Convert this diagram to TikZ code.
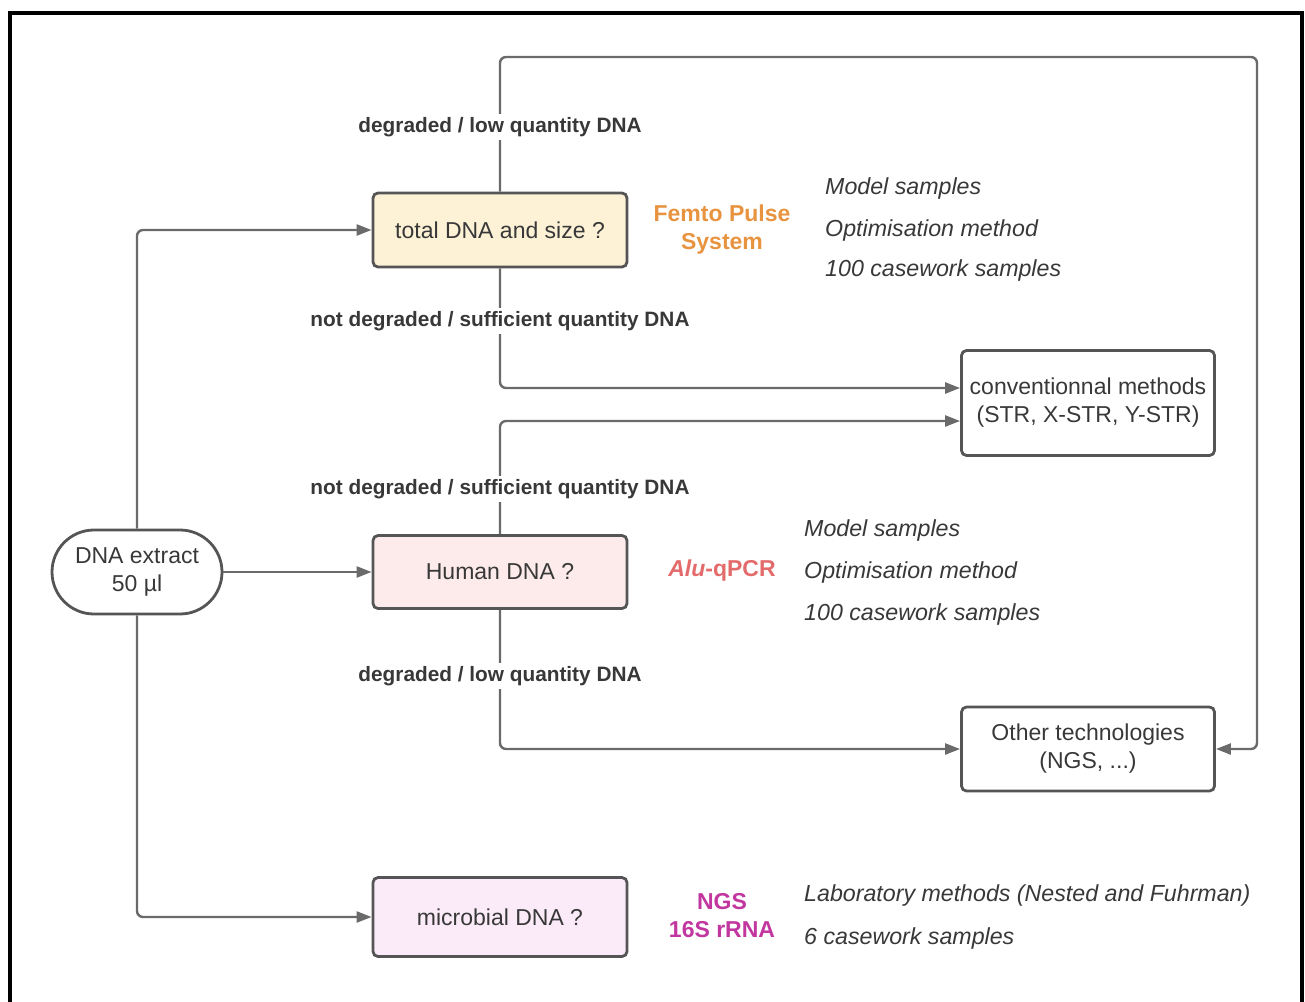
\documentclass[tikz,border=0pt]{standalone}
\usepackage{fontspec}
\setmainfont{Liberation Sans}
\usetikzlibrary{arrows.meta}
\definecolor{linec}{HTML}{6A6A6A}
\definecolor{boxline}{HTML}{555555}
\definecolor{txt}{HTML}{383838}
\definecolor{cream}{HTML}{FDF1D6}
\definecolor{pinkf}{HTML}{FCEBEA}
\definecolor{purplef}{HTML}{FBEBF8}
\definecolor{femto}{HTML}{E8933F}
\definecolor{alu}{HTML}{E36B6B}
\definecolor{ngs}{HTML}{C2369F}
\tikzset{
  box/.style={draw=boxline, line width=2.8pt, rounded corners=5pt, text=txt,
    font=\fontsize{23}{28}\selectfont, align=center, inner sep=0pt},
  conn/.style={draw=linec, line width=2.4pt, rounded corners=6pt,
    -{Triangle[length=15pt,width=11pt]}},
  cond/.style={fill=white, text=txt, font=\bfseries\fontsize{20.8}{24}\selectfont, inner sep=3pt},
  method/.style={font=\bfseries\fontsize{23}{28}\selectfont, align=center},
  note/.style={anchor=west, text=txt, font=\itshape\fontsize{23.2}{28}\selectfont, inner sep=0pt}
}
\begin{document}
\begin{tikzpicture}[x=1pt,y=-1pt]
\useasboundingbox (0,0) rectangle (1305,1001);
\begin{scope}
\clip (0,0) rectangle (1305,1001);
\draw[line width=4pt] (10,1010) -- (10,13) -- (1302,13) -- (1302,1010);
\end{scope}

\node[box, rounded corners=42pt, minimum width=170pt, minimum height=84pt] (ext) at (137,572) {DNA extract\\50 µl};
\node[box, fill=cream, minimum width=254pt, minimum height=74pt] (total) at (500,230) {total DNA and size ?};
\node[box, fill=pinkf, minimum width=254pt, minimum height=73pt] (human) at (500,572) {Human DNA ?};
\node[box, fill=purplef, minimum width=254pt, minimum height=79pt] (micro) at (500,917) {microbial DNA ?};
\node[box, minimum width=253pt, minimum height=105pt] (conv) at (1088,403) {conventionnal methods\\(STR, X-STR, Y-STR)};
\node[box, minimum width=253pt, minimum height=84pt] (other) at (1088,749) {Other technologies\\(NGS, ...)};

\coordinate (tr) at (1257,57);

\draw[conn] (ext.north) |- (total.west);
\draw[conn] (ext.east) -- (human.west);
\draw[conn] (ext.south) |- (micro.west);
\draw[conn] (total.north) |- (tr) |- (other.east);
\draw[conn] (total.south) |- ([yshift=15pt]conv.west);
\draw[conn] (human.north) |- ([yshift=-18pt]conv.west);
\draw[conn] (human.south) |- (other.west);

\node[cond] (l1) at (500,127) {degraded / low quantity DNA};
\node[cond] (l2) at (500,321) {not degraded / sufficient quantity DNA};
\node[cond] (l3) at (500,489) {not degraded / sufficient quantity DNA};
\node[cond] (l4) at (500,676) {degraded / low quantity DNA};

\node[method, text=femto] (m1) at (722,230) {Femto Pulse\\System};
\node[method, text=alu] (m2) at (722,571) {\textit{Alu}-qPCR};
\node[method, text=ngs] (m3) at (722,916) {NGS\\16S rRNA};

\node[note] (n1) at (825,188) {Model samples};
\node[note] (n2) at (825,230) {Optimisation method};
\node[note] (n3) at (825,270) {100 casework samples};
\node[note] (n4) at (804,530) {Model samples};
\node[note] (n5) at (804,572) {Optimisation method};
\node[note] (n6) at (804,614) {100 casework samples};
\node[note] (n7) at (804,895) {Laboratory methods (Nested and Fuhrman)};
\node[note] (n8) at (804,938) {6 casework samples};
\end{tikzpicture}
\end{document}
